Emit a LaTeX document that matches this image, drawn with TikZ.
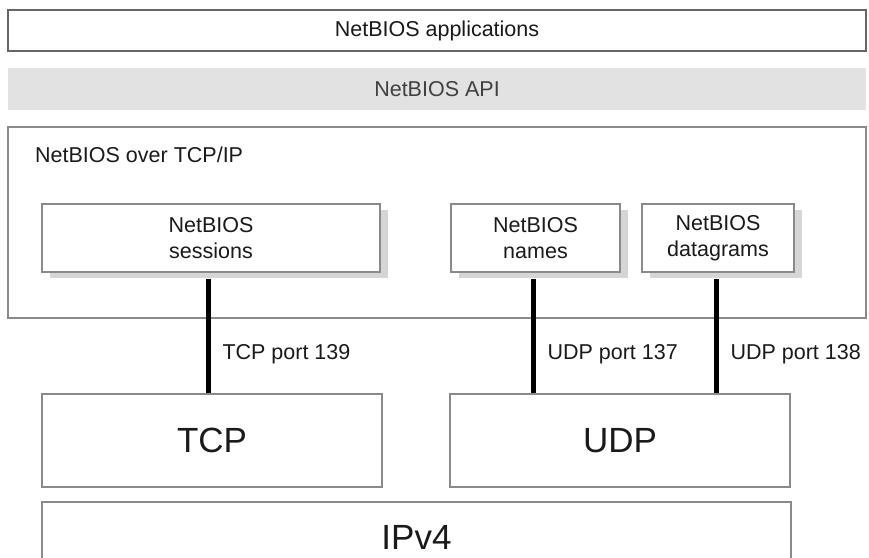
\documentclass[tikz,border=0pt]{standalone}
\usepackage{fontspec}
\setmainfont{Liberation Sans}
\usetikzlibrary{calc,shadows}
\definecolor{txt}{HTML}{1A1A1A}
\definecolor{edge}{HTML}{8A8A8A}
\definecolor{band}{HTML}{E2E2E2}
\definecolor{shade}{HTML}{D6D6D6}
\begin{document}
\begin{tikzpicture}[x=1pt,y=-1pt,
  box/.style={draw=edge, line width=1.2pt, fill=white, inner sep=0pt, text=txt, align=center,
    font=\fontsize{21.5}{26}\selectfont},
  topbox/.style={box, draw=black!60, line width=1.6pt},
  sub/.style={box, drop shadow={shadow xshift=8pt, shadow yshift=-6pt, fill=shade, opacity=1}},
  big/.style={box, font=\fontsize{35}{40}\selectfont},
  port/.style={line width=5pt, black},
  lbl/.style={anchor=west, text=txt, inner sep=0pt, xshift=12pt, font=\fontsize{21.5}{26}\selectfont}
]
\clip (0,0) rectangle (869,557);
\fill[white] (0,0) rectangle (869,557);
% layers
\node[topbox, minimum width=858pt, minimum height=41pt] (apps) at (437,30.5) {NetBIOS applications};
\node[box, draw=none, fill=band, text=black!75, minimum width=858pt, minimum height=42pt] (api) at (437,89) {NetBIOS API};
\node[box, minimum width=858pt, minimum height=191pt] (nbt) at (437,222.5) {};
\node[anchor=west, text=txt, inner sep=0pt, font=\fontsize{21.5}{26}\selectfont] (nbtlabel) at (35,155) {NetBIOS over TCP/IP};
% services
\node[sub, minimum width=338pt, minimum height=68pt] (sess) at (211,238) {NetBIOS\\sessions};
\node[sub, minimum width=169pt, minimum height=68pt] (names) at (535.5,238) {NetBIOS\\names};
\node[sub, minimum width=152pt, minimum height=68pt] (dgram) at (718,238) {NetBIOS\\datagrams};
% transports
\node[big, minimum width=340pt, minimum height=93pt] (tcp) at (212,440.5) {TCP};
\node[big, minimum width=340pt, minimum height=93pt] (udp) at (620,440.5) {UDP};
\node[big, minimum width=749pt, minimum height=70pt] (ipv4) at (416.5,537) {IPv4};
% ports
\path (sess.south) ++(-3,6) coordinate (s1);
\path (names.south) ++(-2.5,6) coordinate (s2);
\path (dgram.south) ++(-2,6) coordinate (s3);
\draw[port] (s1) -- (s1 |- tcp.north) node[lbl, pos=0.66] (l1) {TCP port 139};
\draw[port] (s2) -- (s2 |- udp.north) node[lbl, pos=0.66] (l2) {UDP port 137};
\draw[port] (s3) -- (s3 |- udp.north) node[lbl, pos=0.66] (l3) {UDP port 138};
\end{tikzpicture}
\end{document}
